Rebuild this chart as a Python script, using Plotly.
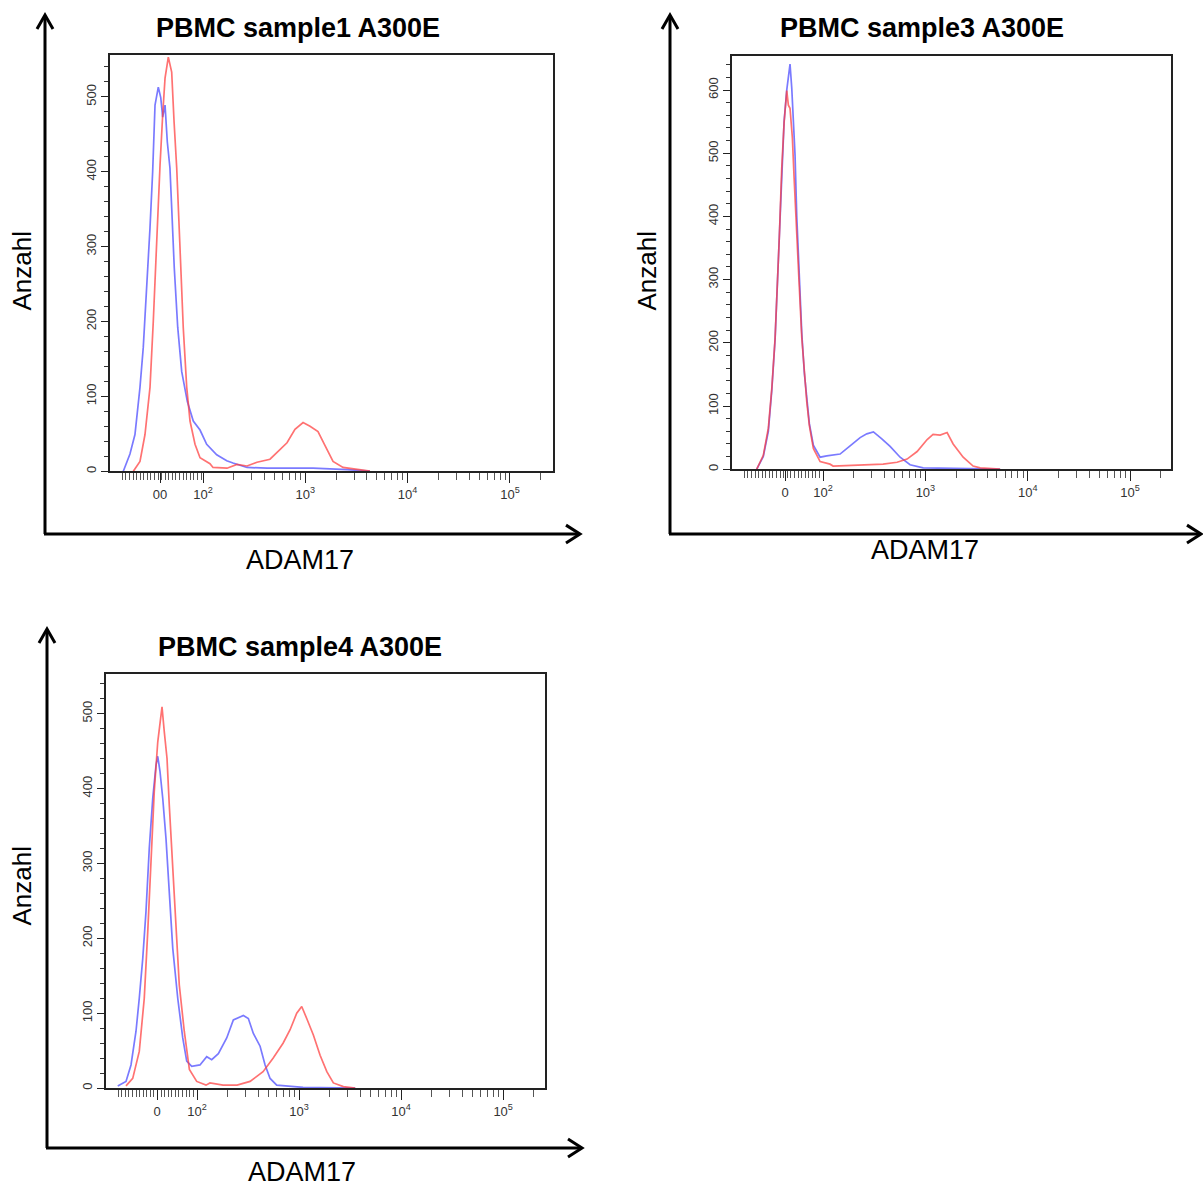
import numpy as np
import plotly.graph_objects as go

W, H = 1203, 1187

# ---------------- data (x in display units: decade position on the biexponential axis) ----------------
titles = ["PBMC sample1 A300E", "PBMC sample3 A300E", "PBMC sample4 A300E"]
x_label = "ADAM17"
y_label = "Anzahl"
x_tick_text_p1 = ["00", "10<sup>2</sup>", "10<sup>3</sup>", "10<sup>4</sup>", "10<sup>5</sup>"]
x_tick_text = ["0", "10<sup>2</sup>", "10<sup>3</sup>", "10<sup>4</sup>", "10<sup>5</sup>"]
zero_pos = [1.58, 1.63, 1.61]

# Sample 1
s1_blue_x = [1.221, 1.286, 1.335, 1.384, 1.416, 1.450, 1.482, 1.508, 1.531, 1.563, 1.587, 1.606, 1.629,
             1.651, 1.677, 1.694, 1.719, 1.753, 1.792, 1.847, 1.905, 1.971, 2.036, 2.134, 2.232, 2.293,
             2.430, 2.626, 3.075, 3.408, 3.632]
s1_blue_y = [0, 23, 49, 112, 165, 245, 325, 400, 489, 513, 499, 473, 489,
             440, 405, 352, 272, 192, 133, 93, 67, 55, 36, 22, 14, 11,
             5, 4, 4, 2, 0]
s1_red_x = [1.319, 1.384, 1.433, 1.482, 1.514, 1.547, 1.580, 1.606, 1.629, 1.661, 1.694, 1.717, 1.743,
            1.775, 1.807, 1.841, 1.873, 1.922, 1.971, 2.068, 2.098, 2.235, 2.332, 2.430, 2.528, 2.655,
            2.733, 2.821, 2.899, 2.978, 3.046, 3.124, 3.193, 3.271, 3.369, 3.505, 3.632]
s1_red_y = [0, 13, 49, 112, 200, 312, 409, 476, 525, 553, 533, 467, 405,
            299, 192, 112, 67, 36, 18, 10, 5, 4, 9, 7, 12, 16,
            27, 38, 56, 65, 60, 53, 34, 13, 5, 2, 0]

# Sample 3
s3_blue_x = [1.352, 1.416, 1.465, 1.499, 1.531, 1.553, 1.573, 1.596, 1.619, 1.645, 1.661, 1.677, 1.694,
             1.710, 1.726, 1.743, 1.765, 1.792, 1.817, 1.841, 1.866, 1.905, 1.938, 1.971, 2.036, 2.166,
             2.264, 2.362, 2.427, 2.492, 2.574, 2.655, 2.753, 2.850, 2.978, 3.408, 3.730]
s3_blue_y = [0, 20, 60, 125, 205, 290, 375, 480, 550, 600, 622, 641, 603,
             559, 497, 400, 310, 215, 152, 108, 72, 38, 28, 19, 21, 24,
             37, 50, 56, 59, 48, 36, 19, 7, 2, 1, 0]
s3_red_x = [1.352, 1.416, 1.465, 1.499, 1.531, 1.553, 1.573, 1.596, 1.619, 1.645, 1.661, 1.677, 1.700,
            1.717, 1.743, 1.765, 1.792, 1.817, 1.841, 1.866, 1.905, 1.971, 2.068, 2.098, 2.264, 2.427,
            2.587, 2.723, 2.821, 2.919, 3.017, 3.075, 3.144, 3.212, 3.271, 3.369, 3.466, 3.535, 3.730]
s3_red_y = [0, 22, 65, 128, 207, 286, 370, 476, 548, 599, 576, 571, 524,
            461, 382, 297, 208, 150, 106, 69, 33, 12, 8, 5, 6, 6,
            8, 11, 16, 28, 47, 55, 54, 58, 40, 19, 5, 2, 0]

# Sample 4
s4_blue_x = [1.223, 1.304, 1.353, 1.402, 1.434, 1.468, 1.500, 1.532, 1.566, 1.598, 1.615, 1.637, 1.664,
             1.696, 1.728, 1.762, 1.811, 1.860, 1.899, 1.948, 2.029, 2.095, 2.144, 2.209, 2.291, 2.356,
             2.454, 2.503, 2.552, 2.618, 2.667, 2.716, 2.781, 3.039, 3.550]
s4_blue_y = [3, 9, 31, 76, 120, 173, 236, 320, 387, 431, 443, 423, 387,
             333, 262, 187, 120, 67, 36, 29, 31, 42, 38, 46, 67, 91,
             97, 93, 73, 56, 31, 13, 4, 1, 0]
s4_red_x = [1.304, 1.370, 1.434, 1.483, 1.517, 1.549, 1.581, 1.615, 1.637, 1.657, 1.679, 1.706, 1.728,
            1.762, 1.794, 1.826, 1.875, 1.925, 1.997, 2.088, 2.127, 2.255, 2.392, 2.520, 2.647, 2.745,
            2.843, 2.912, 2.977, 3.026, 3.075, 3.140, 3.206, 3.272, 3.336, 3.434, 3.550]
s4_red_y = [3, 13, 49, 120, 209, 298, 396, 462, 489, 509, 476, 440, 378,
            289, 209, 138, 76, 25, 9, 4, 7, 4, 4, 9, 22, 40,
            60, 78, 100, 109, 93, 71, 44, 22, 7, 2, 0]

# ---------------- layout geometry (pixels) ----------------
panels = [
    dict(box=(110, 553, 55, 472), xr=(1.091, 5.421), yr=(0, 556), ymaj=100,
         blue=(s1_blue_x, s1_blue_y), red=(s1_red_x, s1_red_y), tt=x_tick_text_p1,
         title=(298, 28), xl=(300, 561), yl=(22, 271),
         arrow=dict(vx=45, vy0=535, vy1=15, hy=535, hx1=580)),
    dict(box=(732, 1171, 56, 470), xr=(1.110, 5.400), yr=(0, 654), ymaj=100,
         blue=(s3_blue_x, s3_blue_y), red=(s3_red_x, s3_red_y), tt=x_tick_text,
         title=(922, 28), xl=(925, 551), yl=(647, 271),
         arrow=dict(vx=670, vy0=535, vy1=15, hy=535, hx1=1201)),
    dict(box=(106, 545, 675, 1090), xr=(1.108, 5.410), yr=(0, 553), ymaj=100,
         blue=(s4_blue_x, s4_blue_y), red=(s4_red_x, s4_red_y), tt=x_tick_text,
         title=(300, 648), xl=(302, 1174), yl=(22, 887),
         arrow=dict(vx=47, vy0=1150, vy1=630, hy=1150, hx1=582)),
]

def px(x):
    return x / W

def py(y):
    return 1 - y / H

BLUE = "rgba(70,70,255,0.72)"
RED = "rgba(255,60,60,0.72)"
FONT = "Arial, Liberation Sans, sans-serif"

fig = go.Figure()
shapes = []
annotations = []

for i, p in enumerate(panels):
    n = "" if i == 0 else str(i + 1)
    xa, ya = "x" + n, "y" + n
    bx = p["blue"]
    rx = p["red"]
    fig.add_trace(go.Scatter(x=bx[0], y=bx[1], mode="lines", line=dict(color=BLUE, width=1.7),
                             xaxis=xa, yaxis=ya, showlegend=False, hoverinfo="skip"))
    fig.add_trace(go.Scatter(x=rx[0], y=rx[1], mode="lines", line=dict(color=RED, width=1.7),
                             xaxis=xa, yaxis=ya, showlegend=False, hoverinfo="skip"))

    x0, x1, y0, y1 = p["box"]
    lo, hi = p["xr"]
    majors = [zero_pos[i], 2, 3, 4, 5]
    minors = []
    for dec in range(2, 6):
        for k in range(2, 10):
            v = dec + np.log10(k)
            if v < hi:
                minors.append(float(v))
    dense = np.arange(lo + 0.12, 1.99, 0.035)
    minors += [float(v) for v in dense]

    xaxis = dict(domain=[px(x0), px(x1)], range=[lo, hi], anchor=ya,
                 showline=True, linecolor="#222", linewidth=1.5, mirror=True,
                 showgrid=False, zeroline=False,
                 tickmode="array", tickvals=majors, ticktext=p["tt"],
                 ticks="outside", ticklen=10, tickwidth=1.3, tickcolor="#222",
                 tickfont=dict(family=FONT, size=13, color="#333"),
                 minor=dict(tickmode="array", tickvals=minors, ticks="outside",
                            ticklen=7, tickwidth=1, tickcolor="#555"),
                 fixedrange=True)
    yaxis = dict(domain=[py(y1), py(y0)], range=list(p["yr"]), anchor=xa,
                 showline=True, linecolor="#222", linewidth=1.5, mirror=True,
                 showgrid=False, zeroline=False,
                 tickmode="linear", tick0=0, dtick=p["ymaj"],
                 ticks="outside", ticklen=7, tickwidth=1.3, tickcolor="#222",
                 tickangle=-90,
                 tickfont=dict(family=FONT, size=13, color="#333"),
                 minor=dict(dtick=20, ticks="outside", ticklen=4, tickwidth=1, tickcolor="#333"),
                 fixedrange=True)
    fig.layout["xaxis" + n] = xaxis
    fig.layout["yaxis" + n] = yaxis

    a = p["arrow"]
    lw = 3
    shapes.append(dict(type="line", xref="paper", yref="paper",
                       x0=px(a["vx"]), x1=px(a["vx"]), y0=py(a["vy0"]), y1=py(a["vy1"] + 1),
                       line=dict(color="black", width=lw)))
    shapes.append(dict(type="line", xref="paper", yref="paper",
                       x0=px(a["vx"] - 1), x1=px(a["hx1"] - 1), y0=py(a["hy"]), y1=py(a["hy"]),
                       line=dict(color="black", width=lw)))
    vx, vt = a["vx"], a["vy1"]
    shapes.append(dict(type="path", xref="paper", yref="paper",
                       path=f"M {px(vx-8)} {py(vt+14)} L {px(vx)} {py(vt)} L {px(vx+8)} {py(vt+14)}",
                       line=dict(color="black", width=lw)))
    hx, hy = a["hx1"], a["hy"]
    shapes.append(dict(type="path", xref="paper", yref="paper",
                       path=f"M {px(hx-14)} {py(hy-9)} L {px(hx)} {py(hy)} L {px(hx-14)} {py(hy+9)}",
                       line=dict(color="black", width=lw)))

    annotations.append(dict(text=f"<b>{titles[i]}</b>", xref="paper", yref="paper",
                            x=px(p["title"][0]), y=py(p["title"][1]), xanchor="center", yanchor="middle",
                            showarrow=False, font=dict(family=FONT, size=27, color="black")))
    annotations.append(dict(text=x_label, xref="paper", yref="paper",
                            x=px(p["xl"][0]), y=py(p["xl"][1]), xanchor="center", yanchor="middle",
                            showarrow=False, font=dict(family=FONT, size=27, color="black")))
    annotations.append(dict(text=y_label, xref="paper", yref="paper", textangle=-90,
                            x=px(p["yl"][0]), y=py(p["yl"][1]), xanchor="center", yanchor="middle",
                            showarrow=False, font=dict(family=FONT, size=26, color="black")))

fig.update_layout(width=W, height=H, margin=dict(l=0, r=0, t=0, b=0),
                  paper_bgcolor="white", plot_bgcolor="white",
                  shapes=shapes, annotations=annotations, showlegend=False)

fig.write_html("out.html", config={"displayModeBar": False},
               post_script="document.body.style.margin='0';document.body.style.overflow='hidden';")
